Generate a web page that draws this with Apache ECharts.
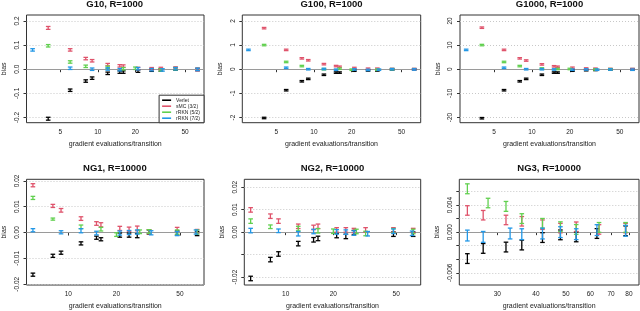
<!DOCTYPE html>
<html>
<head>
<meta charset="utf-8">
<script src="https://cdn.jsdelivr.net/npm/echarts@6/dist/echarts.min.js"></script>
<style>
html,body{margin:0;padding:0;background:#fff;}
#chart{width:640px;height:311px;}
</style>
</head>
<body>
<div id="chart"></div>
<script>
// ---------------- data ----------------
const SERIES_NAMES = ['Verlet', 'sMC (3/2)', 'rRKN (5/2)', 'rRKN (7/2)'];
const PANEL_TITLES = ['G10, R=1000', 'G100, R=1000', 'G1000, R=1000', 'NG1, R=10000', 'NG2, R=10000', 'NG3, R=10000'];

const X_TICKS_G = [5, 10, 20, 50];
const X_TICKS_NG = [10, 20, 50];
const X_TICKS_NG3 = [30, 40, 50, 60, 70, 80];

const Y_TICKS_G10 = [-0.2, -0.1, 0, 0.1, 0.2];
const Y_TICKS_G100 = [-2, -1, 0, 1, 2];
const Y_TICKS_G1000 = [-20, -10, 0, 10, 20];
const Y_TICKS_NG1 = [-0.02, -0.01, 0, 0.01, 0.02];
const Y_TICKS_NG2 = [-0.02, -0.01, 0, 0.01, 0.02];
const Y_LABELS_NG2 = [-0.02, 0, 0.01, 0.02];
const Y_TICKS_NG3 = [-0.006, -0.004, -0.002, 0, 0.002, 0.004, 0.006];
const Y_LABELS_NG3 = [-0.006, 0, 0.004];

// [gradient evaluations/transition, bias, half-width of error bar]
const G10_VERLET = [[4,-0.205,0.006],[6,-0.087,0.005],[8,-0.049,0.005],[9,-0.037,0.005],[12,-0.017,0.005],[15,-0.012,0.005],[16,-0.012,0.005],[21,-0.008,0.005],[27,-0.004,0.005],[32,-0.003,0.005],[42,0.001,0.005],[63,-0.001,0.005]];
const G10_SMC    = [[4,0.171,0.006],[6,0.080,0.005],[8,0.044,0.005],[9,0.035,0.005],[12,0.019,0.005],[15,0.014,0.005],[16,0.013,0.005],[21,0.003,0.005],[27,0.002,0.005],[32,0.003,0.005],[42,0.005,0.005],[63,-0.002,0.005]];
const G10_RRKN5  = [[4,0.097,0.005],[6,0.030,0.005],[8,0.012,0.005],[12,0.008,0.005],[16,0.002,0.005],[20,0.004,0.005],[32,-0.003,0.005],[42,0.002,0.005]];
const G10_RRKN7  = [[3,0.080,0.005],[6,0.004,0.005],[9,0.000,0.005],[12,0.001,0.005],[15,-0.002,0.005],[21,0.002,0.005],[27,-0.002,0.005],[33,-0.003,0.005],[42,0.002,0.005],[63,-0.001,0.005]];

const G100_VERLET = [[4,-2.02,0.03],[6,-0.87,0.03],[8,-0.50,0.03],[9,-0.40,0.03],[12,-0.23,0.03],[15,-0.14,0.03],[16,-0.14,0.03],[21,-0.06,0.03],[27,-0.05,0.03],[32,-0.05,0.03],[42,-0.01,0.03],[63,0.00,0.03]];
const G100_SMC    = [[4,1.70,0.03],[6,0.80,0.03],[8,0.45,0.03],[9,0.37,0.03],[12,0.21,0.03],[15,0.13,0.03],[16,0.10,0.03],[21,0.05,0.03],[27,0.02,0.03],[32,0.02,0.03],[42,0.01,0.03],[63,0.00,0.03]];
const G100_RRKN5  = [[4,1.00,0.03],[6,0.30,0.03],[8,0.13,0.03],[12,0.00,0.03],[16,0.02,0.03],[20,-0.02,0.03],[32,-0.02,0.03],[42,0.00,0.03]];
const G100_RRKN7  = [[3,0.80,0.03],[6,0.06,0.03],[9,0.00,0.03],[12,0.01,0.03],[15,-0.02,0.03],[21,-0.01,0.03],[27,-0.03,0.03],[33,-0.02,0.03],[42,0.00,0.03],[63,-0.01,0.03]];

const G1000_VERLET = [[4,-20.3,0.3],[6,-8.7,0.3],[8,-5.0,0.3],[9,-4.0,0.3],[12,-2.3,0.3],[15,-1.4,0.3],[16,-1.4,0.3],[21,-0.6,0.3],[27,-0.4,0.3],[32,-0.3,0.3],[42,-0.1,0.3],[63,0.0,0.3]];
const G1000_SMC    = [[4,17.2,0.3],[6,8.0,0.3],[8,4.5,0.3],[9,3.6,0.3],[12,2.0,0.3],[15,1.2,0.3],[16,1.0,0.3],[21,0.6,0.3],[27,0.3,0.3],[32,0.2,0.3],[42,0.1,0.3],[63,0.0,0.3]];
const G1000_RRKN5  = [[4,10.0,0.3],[6,3.0,0.3],[8,1.3,0.3],[12,0.3,0.3],[16,0.1,0.3],[20,0.1,0.3],[32,-0.1,0.3],[42,0.0,0.3]];
const G1000_RRKN7  = [[3,8.0,0.3],[6,0.6,0.3],[9,0.0,0.3],[12,0.0,0.3],[15,-0.1,0.3],[21,-0.2,0.3],[27,-0.1,0.3],[33,-0.2,0.3],[42,-0.1,0.3],[63,-0.2,0.3]];

const NG1_VERLET = [[6,-0.0163,0.0006],[8,-0.0090,0.0006],[9,-0.0078,0.0006],[12,-0.0042,0.0006],[15,-0.0020,0.0006],[16,-0.0026,0.0006],[21,-0.0010,0.0008],[24,-0.0010,0.0008],[27,-0.0012,0.0008],[32,0.0002,0.0008],[48,-0.0002,0.0008],[64,-0.0004,0.0008]];
const NG1_SMC    = [[6,0.0183,0.0006],[8,0.0103,0.0006],[9,0.0086,0.0007],[12,0.0054,0.0007],[15,0.0035,0.0007],[16,0.0030,0.0008],[21,0.0016,0.0008],[24,0.0013,0.0008],[27,0.0016,0.0009],[32,0.0003,0.0008],[48,0.0012,0.0008],[64,0.0004,0.0008]];
const NG1_RRKN5  = [[6,0.0134,0.0006],[8,0.0052,0.0004],[12,0.0022,0.0007],[16,0.0013,0.0007],[20,-0.0008,0.0007],[28,0.0003,0.0007],[32,0.0004,0.0007],[48,0.0002,0.0008],[64,0.0002,0.0008]];
const NG1_RRKN7  = [[6,0.0009,0.0006],[9,0.0001,0.0006],[12,0.0007,0.0008],[15,-0.0002,0.0007],[21,-0.0002,0.0008],[24,0.0000,0.0008],[27,0.0002,0.0008],[33,-0.0001,0.0008],[48,-0.0004,0.0008],[63,0.0002,0.0008]];

const NG2_VERLET = [[6,-0.0206,0.0010],[8,-0.0122,0.0010],[9,-0.0097,0.0010],[12,-0.0051,0.0010],[15,-0.0034,0.0010],[16,-0.0028,0.0010],[21,-0.0015,0.0010],[24,-0.0019,0.0010],[27,-0.0002,0.0010],[48,-0.0009,0.0010],[64,-0.0009,0.0010]];
const NG2_SMC    = [[6,0.0099,0.0010],[8,0.0071,0.0010],[9,0.0049,0.0010],[12,0.0026,0.0010],[15,0.0021,0.0010],[16,0.0026,0.0010],[21,0.0010,0.0010],[24,0.0010,0.0010],[27,0.0007,0.0010],[32,0.0010,0.0010],[48,0.0010,0.0010],[64,0.0007,0.0010]];
const NG2_RRKN5  = [[6,0.0049,0.0010],[8,0.0024,0.0008],[12,0.0016,0.0010],[16,0.0006,0.0010],[20,0.0004,0.0010],[28,0.0003,0.0010],[32,-0.0006,0.0010],[48,0.0006,0.0010],[64,0.0003,0.0010]];
const NG2_RRKN7  = [[6,0.0007,0.0010],[9,0.0006,0.0008],[12,-0.0007,0.0010],[15,0.0003,0.0010],[21,0.0001,0.0010],[24,0.0000,0.0010],[27,-0.0004,0.0010],[33,-0.0007,0.0010],[48,0.0004,0.0010],[63,-0.0005,0.0010]];

const NG3_VERLET = [[24,-0.0039,0.00072],[27,-0.0024,0.00072],[32,-0.0022,0.00072],[36,-0.0019,0.00072],[42,-0.0008,0.00072],[48,-0.0004,0.00072],[54,-0.0007,0.00072],[63,-0.0002,0.00072],[78,0.0002,0.00072]];
const NG3_SMC    = [[24,0.0032,0.00070],[27,0.0025,0.00070],[32,0.0018,0.00070],[36,0.0016,0.00070],[42,0.0011,0.00070],[48,0.0006,0.00070],[54,0.0008,0.00070],[64,0.0004,0.00070],[78,0.0006,0.00070]];
const NG3_RRKN5  = [[24,0.0064,0.00073],[28,0.0043,0.00070],[32,0.0038,0.00073],[36,0.0020,0.00072],[42,0.0013,0.00072],[48,0.0008,0.00072],[54,0.0004,0.00072],[64,0.0007,0.00072],[78,0.0007,0.00072]];
const NG3_RRKN7  = [[24,-0.0005,0.00080],[27,-0.0007,0.00080],[33,-0.0002,0.00080],[36,-0.0003,0.00080],[42,-0.0002,0.00080],[48,0.0000,0.00080],[54,-0.0003,0.00080],[63,0.0003,0.00080],[78,0.0002,0.00080]];

// ---------------- layout / style ----------------
const FONT = "'Liberation Sans', Arial, Helvetica, sans-serif";
const COLORS = ['#000000', '#DF536B', '#61D04F', '#2297E6'];

const PANELS = [
  {grid: {left: 25.3, top: 15, width: 178.7, height: 107.7}, x: [2.68, 71], xt: X_TICKS_G, y: [-0.2215, 0.2245], yt: Y_TICKS_G10, yl: Y_TICKS_G10, dec: 1,
   data: [G10_VERLET, G10_SMC, G10_RRKN5, G10_RRKN7]},
  {grid: {left: 242.3, top: 15, width: 178.4, height: 107.7}, x: [2.68, 71], xt: X_TICKS_G, y: [-2.215, 2.245], yt: Y_TICKS_G100, yl: Y_TICKS_G100, dec: 0,
   data: [G100_VERLET, G100_SMC, G100_RRKN5, G100_RRKN7]},
  {grid: {left: 460, top: 15, width: 179, height: 107.7}, x: [2.68, 71], xt: X_TICKS_G, y: [-22.15, 22.45], yt: Y_TICKS_G1000, yl: Y_TICKS_G1000, dec: 0,
   data: [G1000_VERLET, G1000_SMC, G1000_RRKN5, G1000_RRKN7]},
  {grid: {left: 25.7, top: 179.3, width: 178.3, height: 105.7}, x: [5.47, 70.7], xt: X_TICKS_NG, y: [-0.0203, 0.0206], yt: Y_TICKS_NG1, yl: Y_TICKS_NG1, dec: 2,
   data: [NG1_VERLET, NG1_SMC, NG1_RRKN5, NG1_RRKN7]},
  {grid: {left: 244.3, top: 179.3, width: 176.4, height: 105.7}, x: [5.47, 71.4], xt: X_TICKS_NG, y: [-0.0235, 0.0235], yt: Y_TICKS_NG2, yl: Y_LABELS_NG2, dec: 2,
   data: [NG2_VERLET, NG2_SMC, NG2_RRKN5, NG2_RRKN7]},
  {grid: {left: 459.3, top: 179.3, width: 179.7, height: 105.7}, x: [22.6, 86.2], xt: X_TICKS_NG3, y: [-0.0078, 0.0078], yt: Y_TICKS_NG3, yl: Y_LABELS_NG3, dec: 3,
   data: [NG3_VERLET, NG3_SMC, NG3_RRKN5, NG3_RRKN7]}
];

function renderErrorBar(params, api) {
  const x = api.value(0), y = api.value(1), e = api.value(2);
  const top = api.coord([x, y + e]);
  const bot = api.coord([x, y - e]);
  const hw = 2.3;
  const style = {stroke: api.visual('color'), lineWidth: 1.3, fill: null};
  return {
    type: 'group',
    children: [
      {type: 'line', shape: {x1: top[0], y1: top[1], x2: bot[0], y2: bot[1]}, style: style},
      {type: 'line', shape: {x1: top[0] - hw, y1: top[1], x2: top[0] + hw, y2: top[1]}, style: style},
      {type: 'line', shape: {x1: bot[0] - hw, y1: bot[1], x2: bot[0] + hw, y2: bot[1]}, style: style}
    ]
  };
}

const grids = [], xAxes = [], yAxes = [], series = [], graphics = [];
PANELS.forEach(function (p, i) {
  grids.push(Object.assign({show: true, borderColor: '#333', borderWidth: 1, backgroundColor: 'transparent', containLabel: false}, p.grid));
  xAxes.push({
    type: 'log', logBase: 10, gridIndex: i, min: p.x[0], max: p.x[1],
    axisLine: {show: false},
    axisTick: {show: true, length: 3, customValues: p.xt, lineStyle: {color: '#333', width: 1}},
    axisLabel: {show: true, customValues: p.xt, margin: 6, fontSize: 6.5, color: '#222', fontFamily: FONT,
      formatter: function (v) { return String(Math.round(v)); }},
    splitLine: {show: false}, minorTick: {show: false}, minorSplitLine: {show: false},
    name: 'gradient evaluations/transition', nameLocation: 'middle', nameGap: 18,
    nameTextStyle: {fontSize: 7, color: '#222', fontFamily: FONT}
  });
  const dec = p.dec;
  yAxes.push({
    type: 'value', gridIndex: i, min: p.y[0], max: p.y[1],
    axisLine: {show: false},
    axisTick: {show: true, length: 3, customValues: p.yt, lineStyle: {color: '#333', width: 1}},
    axisLabel: {show: true, customValues: p.yl, rotate: 90, margin: 6, fontSize: 6.5, color: '#222', fontFamily: FONT,
      formatter: function (v) { return (Math.abs(v) < 1e-12 ? 0 : v).toFixed(dec); }},
    splitLine: {show: true, lineStyle: {type: [1, 2], color: '#c8c8c8', width: 1}},
    name: 'bias', nameLocation: 'middle', nameGap: 18.5, nameRotate: 90,
    nameTextStyle: {fontSize: 7, color: '#222', fontFamily: FONT}
  });
  p.data.forEach(function (arr, k) {
    const s = {
      type: 'custom', name: SERIES_NAMES[k], xAxisIndex: i, yAxisIndex: i,
      renderItem: renderErrorBar, data: arr, encode: {x: 0, y: 1},
      itemStyle: {color: COLORS[k]}, color: COLORS[k], silent: true, animation: false, z: 3 + k
    };
    if (k === 0) {
      s.markLine = {silent: true, symbol: 'none', label: {show: false}, animation: false,
        lineStyle: {color: '#9a9a9a', type: 'solid', width: 1}, data: [{yAxis: 0}], z: 1};
    }
    series.push(s);
  });
  const cx = p.grid.left + p.grid.width / 2;
  graphics.push({type: 'text', x: cx, y: p.grid.top - 10.5, z: 10,
    style: {text: PANEL_TITLES[i], textAlign: 'center', textVerticalAlign: 'middle',
      font: 'bold 9.5px ' + FONT, fill: '#111'}});
});

const chart = echarts.init(document.getElementById('chart'), null, {renderer: 'canvas'});
chart.setOption({
  animation: false,
  backgroundColor: '#ffffff',
  grid: grids, xAxis: xAxes, yAxis: yAxes, series: series, graphic: graphics,
  legend: {
    data: SERIES_NAMES, orient: 'vertical', right: 640 - 204, bottom: 311 - 122.7,
    itemWidth: 9, itemHeight: 1.6, itemGap: 1, icon: 'rect', selectedMode: false,
    textStyle: {fontSize: 5, lineHeight: 5, color: '#222', fontFamily: FONT},
    borderColor: '#333', borderWidth: 1, borderRadius: 0, padding: [2.5, 4, 2, 3], backgroundColor: '#ffffff', z: 20
  }
});
</script>
</body>
</html>
